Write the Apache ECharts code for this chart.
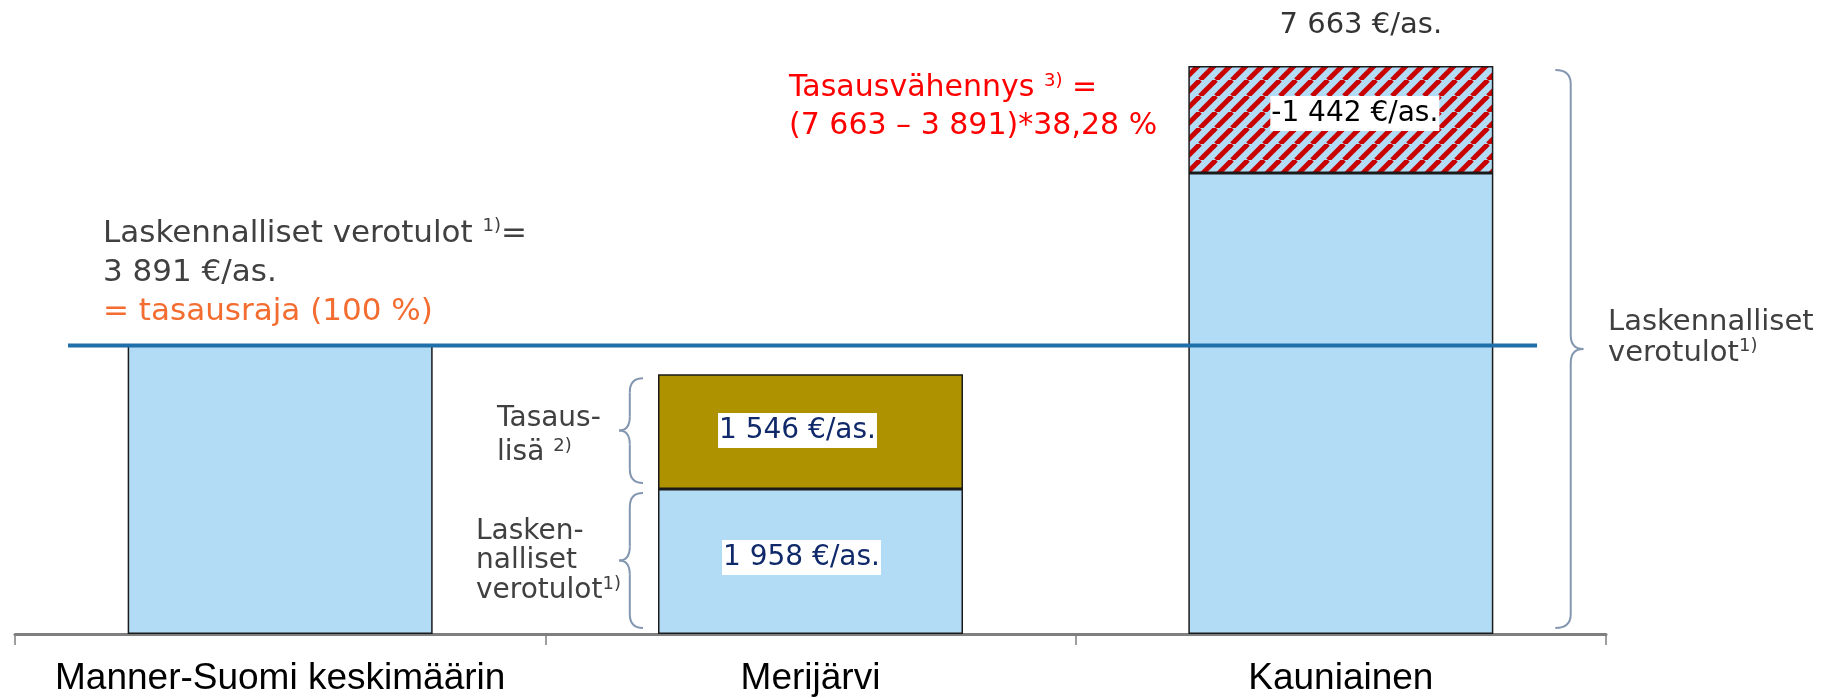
<!DOCTYPE html>
<html>
<head>
<meta charset="utf-8">
<script src="https://cdn.jsdelivr.net/npm/echarts@6/dist/echarts.min.js"></script>
<style>
    html, body { margin: 0; padding: 0; background: #fff; }
    #chart { width: 1831px; height: 698px; }
</style>
</head>
<body>
<div id="chart"></div>
<script>
    // data
    const categories = ['Manner-Suomi keskimäärin', 'Merijärvi', 'Kauniainen'];
    const baseValues = [3891, 1958, 6221];      // laskennalliset verotulot (jäljelle jäävä osa)
    const addValues = [null, 1546, null];       // tasauslisä
    const cutValues = [null, null, 1442];       // tasausvähennys
    const totalValues = [null, null, 7663];     // laskennalliset verotulot yhteensä
    const baseLabelShow = [false, true, false];
    const equalizationLimit = 3891;             // tasausraja 100 %
    const reductionRate = '38,28';
    const limitLineSpan = [0.1, 2.87];          // tasausrajan viivan alku ja loppu (kategoria-akselin yksikköinä)

    const FONT = 'DejaVu Sans';
    const fmt = v => String(v).replace(/\B(?=(\d{3})+(?!\d))/g, ' ');

    // vinoviivoitus tasausvähennykselle
    function hatch() {
        const c = document.createElement('canvas');
        c.width = 16;
        c.height = 16;
        const ctx = c.getContext('2d');
        ctx.fillStyle = '#b2dcf5';
        ctx.fillRect(0, 0, 16, 16);
        ctx.strokeStyle = '#c80000';
        ctx.lineWidth = 5;
        [-16, 0, 16].forEach(k => {
            ctx.beginPath();
            ctx.moveTo(k, 16);
            ctx.lineTo(k + 16, 0);
            ctx.stroke();
        });
        return c;
    }

    const chart = echarts.init(document.getElementById('chart'));
    const barStyle = {borderColor: '#1a1a1a', borderWidth: 1.5};
    const valueLabel = {
        show: true,
        position: 'inside',
        fontFamily: FONT,
        fontSize: 28,
        backgroundColor: '#fff',
        padding: [4, 1, 3, 1]
    };

    chart.setOption({
        animation: false,
        grid: {left: 15, right: 225, top: 4, bottom: 64},
        xAxis: [{
            type: 'category',
            data: categories,
            axisLine: {lineStyle: {color: '#7f7f7f', width: 3}},
            axisTick: {show: true, alignWithLabel: false, length: 11, lineStyle: {color: '#7f7f7f', width: 1.5}},
            axisLabel: {interval: 0, fontFamily: 'Liberation Sans', fontSize: 37, color: '#000', margin: 26}
        }, {
            type: 'value', min: 0, max: 3, show: false
        }],
        yAxis: {type: 'value', min: 0, max: 8500, show: false},
        series: [
            {
                name: 'Laskennalliset verotulot',
                type: 'bar',
                stack: 'a',
                barWidth: 305,
                itemStyle: Object.assign({color: '#b2dcf5'}, barStyle),
                label: Object.assign({}, valueLabel, {color: '#10296a', offset: [-9, -4], formatter: p => fmt(p.value) + ' €/as.'}),
                data: baseValues.map((v, i) => ({value: v, label: {show: baseLabelShow[i]}}))
            },
            {
                name: 'Tasauslisä',
                type: 'bar',
                stack: 'a',
                barWidth: 305,
                itemStyle: Object.assign({color: '#ae9200'}, barStyle),
                label: Object.assign({}, valueLabel, {color: '#10296a', offset: [-13, -1], formatter: p => fmt(p.value) + ' €/as.'}),
                data: addValues
            },
            {
                name: 'Tasausvähennys',
                type: 'bar',
                stack: 'a',
                barWidth: 305,
                itemStyle: Object.assign({color: {image: hatch(), repeat: 'repeat'}}, barStyle),
                label: Object.assign({}, valueLabel, {color: '#000', offset: [14, -6], formatter: p => '-' + fmt(p.value) + ' €/as.'}),
                data: cutValues
            },
            {
                name: 'Yhteensä',
                type: 'scatter',
                symbolSize: 0,
                label: {
                    show: true,
                    position: 'top',
                    distance: 26,
                    offset: [20, 0],
                    fontFamily: FONT,
                    fontSize: 29,
                    color: '#000',
                    formatter: p => fmt(p.value) + ' €/as.'
                },
                data: totalValues
            },
            {
                name: 'Tasausraja',
                type: 'line',
                xAxisIndex: 1,
                symbol: 'none',
                z: 5,
                lineStyle: {color: '#1f6faa', width: 4},
                data: limitLineSpan.map(x => [x, equalizationLimit])
            }
        ]
    });

    // aaltosulkeet ja selitetekstit
    const yPx = v => chart.convertToPixel({yAxisIndex: 0}, v);
    const xPx = i => chart.convertToPixel({xAxisIndex: 0}, i);
    const half = 305 / 2;
    const braceStyle = {stroke: '#8497b0', lineWidth: 2, fill: null};

    // w < 0: kärki vasemmalle, w > 0: kärki oikealle
    function brace(xEnd, v0, v1, w) {
        const yTop = yPx(v1) + 4, yBot = yPx(v0) - 6;
        const xs = xEnd + w * 0.55, xt = xEnd + w, ym = (yTop + yBot) / 2;
        const r = Math.min(14, (yBot - yTop) / 6);
        const q = (x1, y1, cx, cy, x2, y2) => ({type: 'bezierCurve', shape: {x1, y1, cpx1: cx, cpy1: cy, x2, y2}, style: braceStyle});
        const l = (y1, y2) => ({type: 'line', shape: {x1: xs, y1, x2: xs, y2}, style: braceStyle});
        return [
            q(xEnd, yTop, xs, yTop, xs, yTop + r),
            l(yTop + r, ym - r),
            q(xs, ym - r, xs, ym, xt, ym),
            q(xt, ym, xs, ym, xs, ym + r),
            l(ym + r, yBot - r),
            q(xs, yBot - r, xs, yBot, xEnd, yBot)
        ];
    }

    const rich = size => ({
        g: {fontFamily: FONT, fontSize: size, fill: '#404040'},
        gs: {fontFamily: FONT, fontSize: 18, fill: '#404040', padding: [0, 0, 14, 0]},
        o: {fontFamily: FONT, fontSize: size, fill: '#f36c30'},
        r: {fontFamily: FONT, fontSize: size, fill: '#ff0000'},
        rs: {fontFamily: FONT, fontSize: 18, fill: '#ff0000', padding: [0, 0, 14, 0]}
    });

    function note(x, y, text, size, lineHeight) {
        const r = rich(size);
        ['g', 'o', 'r'].forEach(k => { r[k].lineHeight = lineHeight; });
        return {type: 'text', x: x, y: y, z: 10, style: {text: text, rich: r, verticalAlign: 'top'}};
    }

    const mid = xPx(1), kau = xPx(2);
    const merLeft = mid - half - 15;
    const kauRight = kau + half + 62;

    chart.setOption({
        graphic: [].concat(
            brace(merLeft, baseValues[1], baseValues[1] + addValues[1], -24),
            brace(merLeft, 0, baseValues[1], -24),
            brace(kauRight, 0, totalValues[2], 28),
            [
                note(103, 214, '{g|Laskennalliset verotulot }{gs|1)}{g|=}\n{g|' + fmt(equalizationLimit) + ' €/as.}\n{o|= tasausraja (100 %)}', 31, 39),
                note(789, 69, '{r|Tasausvähennys }{rs|3)}{r| =}\n{r|(' + fmt(totalValues[2]) + ' – ' + fmt(equalizationLimit) + ')*' + reductionRate + ' %}', 30, 38),
                note(1608, 307, '{g|Laskennalliset}\n{g|verotulot}{gs|1)}', 29, 30),
                note(497, 402, '{g|Tasaus-}\n{g|lisä }{gs|2)}', 28, 34),
                note(476, 517, '{g|Lasken-}\n{g|nalliset}\n{g|verotulot}{gs|1)}', 28, 29)
            ]
        )
    });
</script>
</body>
</html>
